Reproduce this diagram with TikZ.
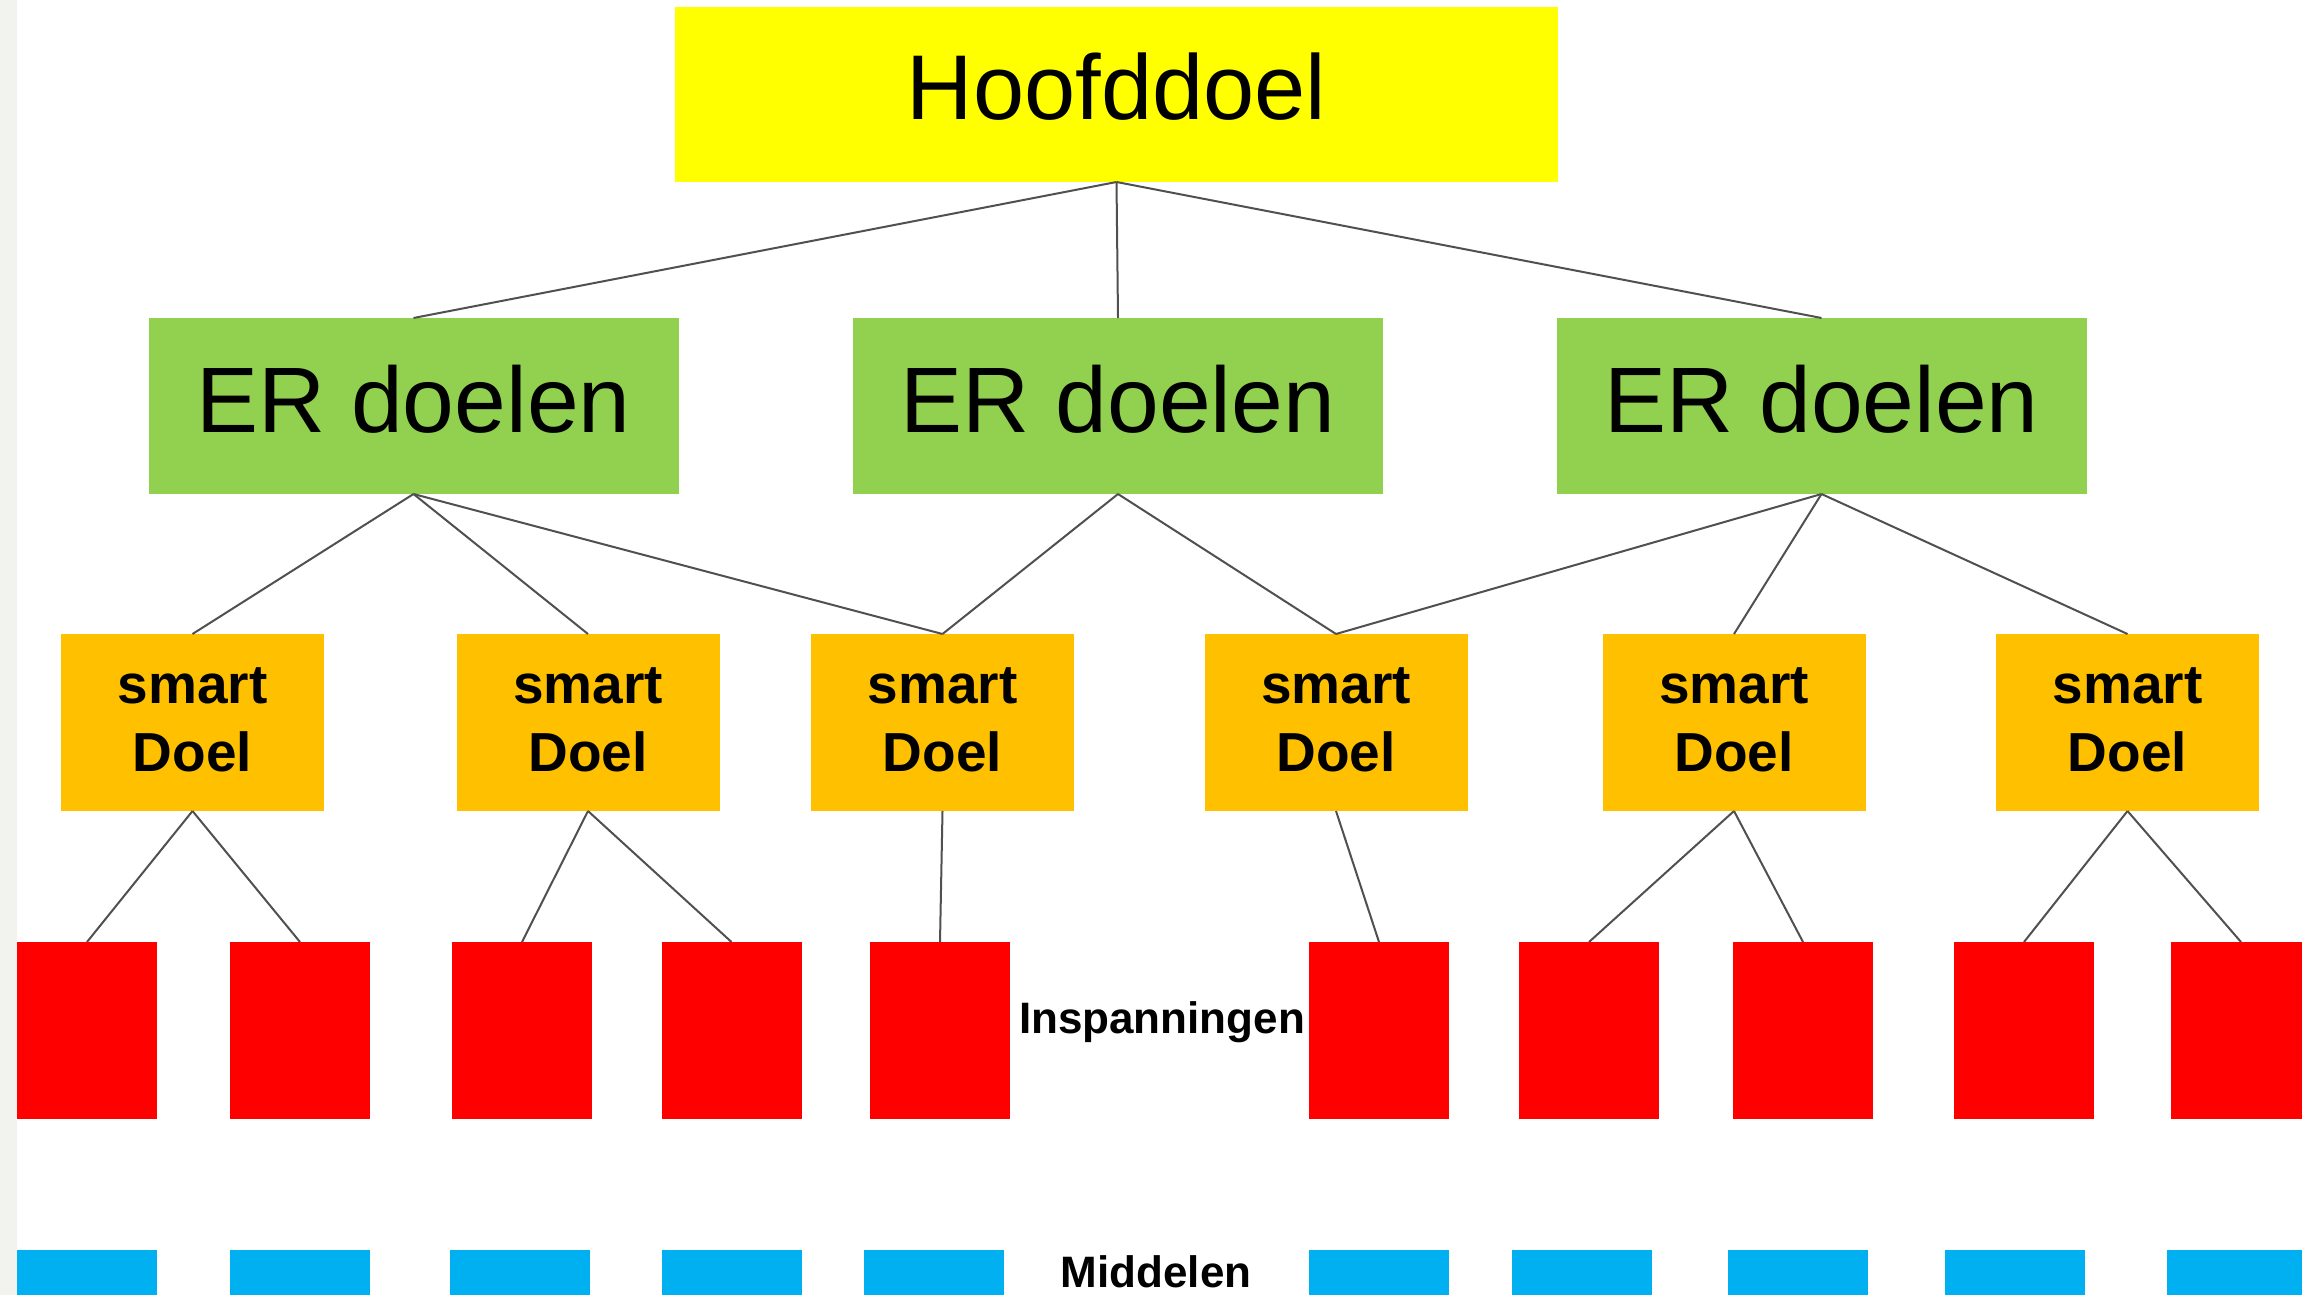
\documentclass[tikz,border=0pt]{standalone}
\usepackage{fontspec}
\setmainfont{Liberation Sans}
\definecolor{topyellow}{HTML}{FFFF00}
\definecolor{ergreen}{HTML}{92D050}
\definecolor{smartorange}{HTML}{FFC000}
\definecolor{effortred}{HTML}{FF0000}
\definecolor{meansblue}{HTML}{00B0F0}
\definecolor{linkgray}{HTML}{505050}
\definecolor{edgegray}{HTML}{F2F2EE}
\newcommand{\twolines}[2]{\begin{tabular}[b]{@{}c@{}}#1\\#2\end{tabular}}
\begin{document}
\begin{tikzpicture}[x=1pt,y=-1pt,
  box/.style={rectangle, inner sep=0pt, outer sep=0pt, text=black},
  topbox/.style={box, fill=topyellow, minimum width=883pt, minimum height=175pt,
    font=\fontsize{92}{104}\selectfont, text height=50pt, text depth=0pt},
  erbox/.style={box, fill=ergreen, minimum width=530pt, minimum height=176pt,
    font=\fontsize{93}{106}\selectfont, text height=52pt, text depth=0pt},
  smartbox/.style={box, fill=smartorange, minimum width=263pt, minimum height=177pt,
    font=\bfseries\fontsize{55}{68}\selectfont, text height=97pt, text depth=0pt},
  effort/.style={box, fill=effortred, minimum width=140pt, minimum height=177pt},
  means/.style={box, fill=meansblue, minimum width=140pt, minimum height=177pt},
  rowlabel/.style={anchor=base, inner sep=0pt, font=\bfseries\fontsize{44}{53}\selectfont},
  link/.style={draw=linkgray, line width=2pt}
]
% page area and the grey strip along the left edge
\clip (0,0) rectangle (2302,1295);
\fill[white] (0,0) rectangle (2302,1295);
\fill[edgegray] (0,0) rectangle (17,1295);

% main goal
\node[topbox] (top) at (1116.5,94.5) {Hoofddoel};

% ER goals
\node[erbox] (er1) at (413.5,406) {ER doelen};
\node[erbox] (er2) at (1118,406) {ER doelen};
\node[erbox] (er3) at (1821.5,406) {ER doelen};

% smart goals
\node[smartbox] (s1) at (192.5,722.5) {\twolines{smart}{Doel}};
\node[smartbox] (s2) at (588,722.5) {\twolines{smart}{Doel}};
\node[smartbox] (s3) at (942.5,722.5) {\twolines{smart}{Doel}};
\node[smartbox] (s4) at (1336,722.5) {\twolines{smart}{Doel}};
\node[smartbox] (s5) at (1734,722.5) {\twolines{smart}{Doel}};
\node[smartbox] (s6) at (2127.5,722.5) {\twolines{smart}{Doel}};

% efforts
\node[effort] (r1) at (87,1030.5) {};
\node[effort] (r2) at (300,1030.5) {};
\node[effort] (r3) at (522,1030.5) {};
\node[effort] (r4) at (731.5,1030.5) {};
\node[effort] (r5) at (940,1030.5) {};
\node[effort] (r6) at (1379,1030.5) {};
\node[effort] (r7) at (1589,1030.5) {};
\node[effort] (r8) at (1803,1030.5) {};
\node[effort] (r9) at (2024,1030.5) {};
\node[effort] (r10) at (2241,1030.5) {};

% means
\node[means] (b1) at (87,1338.5) {};
\node[means] (b2) at (299.5,1338.5) {};
\node[means] (b3) at (519.5,1338.5) {};
\node[means] (b4) at (731.5,1338.5) {};
\node[means] (b5) at (933.5,1338.5) {};
\node[means] (b6) at (1379,1338.5) {};
\node[means] (b7) at (1581.5,1338.5) {};
\node[means] (b8) at (1797.5,1338.5) {};
\node[means] (b9) at (2014.5,1338.5) {};
\node[means] (b10) at (2236.5,1338.5) {};

% row labels
\node[rowlabel] (inspan) at (1162,1033) {Inspanningen};
\node[rowlabel] (middel) at (1156,1287) {Middelen};

% connectors
\foreach \c in {er1,er2,er3} \draw[link] (top.south) -- (\c.north);
\foreach \c in {s1,s2,s3} \draw[link] (er1.south) -- (\c.north);
\foreach \c in {s3,s4} \draw[link] (er2.south) -- (\c.north);
\foreach \c in {s4,s5,s6} \draw[link] (er3.south) -- (\c.north);
\foreach \p/\c in {s1/r1,s1/r2,s2/r3,s2/r4,s3/r5,s4/r6,s5/r7,s5/r8,s6/r9,s6/r10}
  \draw[link] (\p.south) -- (\c.north);
\end{tikzpicture}
\end{document}
